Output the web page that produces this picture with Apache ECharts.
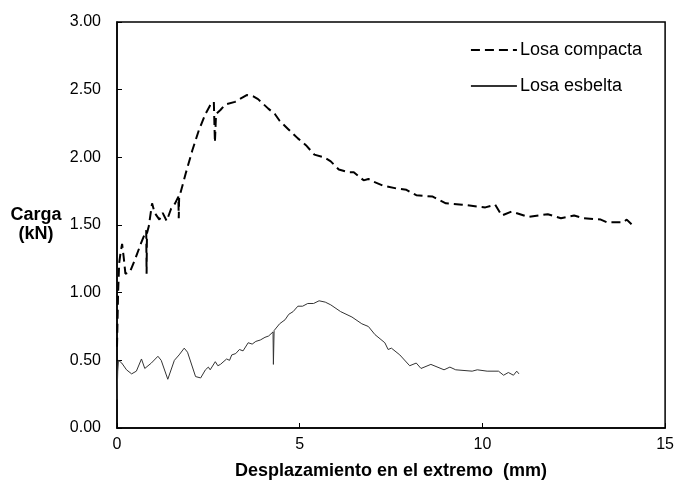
<!DOCTYPE html>
<html>
<head>
<meta charset="UTF-8">
<script type="text/javascript" src="https://cdn.jsdelivr.net/npm/echarts@6/dist/echarts.min.js"></script>
<title>Carga - desplazamiento</title>
<style>
	html, body { margin: 0; padding: 0; background: #fff; }
	#main { width: 677px; height: 486px; }
</style>
</head>
<body>
<div id="main"></div>
<script type="text/javascript">
	// Losa compacta: [desplazamiento mm, carga kN]
	var compacta = [
		[0, 0.6], [0.03, 1.0], [0.06, 1.22], [0.1, 1.3], [0.14, 1.36], [0.18, 1.27], [0.23, 1.14],
		[0.35, 1.15], [0.5, 1.25], [0.65, 1.36], [0.8, 1.46], [0.81, 1.14], [0.82, 1.44],
		[0.87, 1.49], [0.96, 1.66], [1.03, 1.59], [1.16, 1.54], [1.25, 1.59], [1.36, 1.53],
		[1.48, 1.62], [1.59, 1.66], [1.68, 1.71], [1.69, 1.55], [1.7, 1.7], [1.73, 1.73],
		[1.88, 1.88], [2.06, 2.05], [2.24, 2.2], [2.42, 2.32], [2.56, 2.39], [2.65, 2.41],
		[2.68, 2.11], [2.71, 2.32], [2.83, 2.35], [2.96, 2.39], [3.23, 2.41], [3.55, 2.46],
		[3.73, 2.45], [3.86, 2.43], [4.14, 2.36], [4.32, 2.32], [4.45, 2.27], [4.68, 2.21],
		[4.95, 2.14], [5.17, 2.09], [5.4, 2.02], [5.67, 2.0], [5.85, 1.97], [6.07, 1.91],
		[6.34, 1.89], [6.48, 1.89], [6.75, 1.83], [6.88, 1.84], [7.02, 1.82], [7.29, 1.79],
		[7.65, 1.77], [7.92, 1.76], [8.19, 1.72], [8.64, 1.71], [9.0, 1.66], [9.45, 1.65],
		[10.08, 1.63], [10.35, 1.65], [10.53, 1.57], [10.8, 1.6], [11.25, 1.56], [11.79, 1.58],
		[12.15, 1.55], [12.51, 1.57], [12.78, 1.55], [13.24, 1.54], [13.41, 1.52], [13.86, 1.52],
		[13.95, 1.54], [14.1, 1.5]
	];

	// Losa esbelta: [desplazamiento mm, carga kN]
	var esbelta = [
		[0, 0.21], [0.02, 0.42], [0.04, 0.5], [0.13, 0.48], [0.26, 0.43], [0.4, 0.4],
		[0.53, 0.42], [0.67, 0.51], [0.76, 0.44], [0.94, 0.48], [1.12, 0.53], [1.21, 0.5],
		[1.39, 0.36], [1.57, 0.5], [1.7, 0.54], [1.84, 0.59], [1.93, 0.56], [2.15, 0.38],
		[2.29, 0.37], [2.42, 0.43], [2.5, 0.45], [2.55, 0.43], [2.69, 0.49], [2.76, 0.46],
		[2.83, 0.47], [3.0, 0.51], [3.08, 0.5], [3.14, 0.54], [3.25, 0.55], [3.35, 0.58],
		[3.45, 0.57], [3.59, 0.63], [3.7, 0.62], [3.8, 0.64], [3.92, 0.65], [4.05, 0.67],
		[4.15, 0.68], [4.27, 0.71], [4.28, 0.47], [4.3, 0.72], [4.45, 0.77], [4.6, 0.8],
		[4.7, 0.84], [4.82, 0.86], [4.95, 0.9], [5.08, 0.9], [5.22, 0.92], [5.38, 0.92],
		[5.53, 0.94], [5.7, 0.93], [5.85, 0.91], [6.12, 0.86], [6.43, 0.82], [6.7, 0.77],
		[6.88, 0.75], [7.06, 0.69], [7.33, 0.63], [7.42, 0.58], [7.51, 0.59], [7.74, 0.54],
		[8.01, 0.46], [8.19, 0.48], [8.32, 0.44], [8.59, 0.47], [8.95, 0.43], [9.11, 0.45],
		[9.27, 0.43], [9.72, 0.42], [9.86, 0.43], [10.13, 0.42], [10.44, 0.42], [10.58, 0.39],
		[10.71, 0.41], [10.85, 0.39], [10.94, 0.42], [11.0, 0.4]
	];

	var nombres = ['Losa compacta', 'Losa esbelta'];
	var yTicks = [0, 0.5, 1, 1.5, 2, 2.5, 3];
	var xTicks = [0, 5, 10, 15];

	var fuente = '"Liberation Sans", Arial, sans-serif';
	var myChart = echarts.init(document.getElementById('main'));

	var option = {
		animation: false,
		textStyle: { fontFamily: fuente, color: '#000' },
		grid: {
			left: 117, right: 9, top: 22, bottom: 58,
			show: true, borderColor: '#000', borderWidth: 1.5, backgroundColor: 'transparent'
		},
		legend: {
			orient: 'vertical',
			right: 30,
			top: 36,
			itemWidth: 46,
			itemHeight: 14,
			itemGap: 18,
			itemStyle: { color: 'rgba(0,0,0,0)', borderWidth: 0 },
			textStyle: { fontSize: 18, color: '#000', fontFamily: fuente, padding: [0, 0, 0, -2] },
			data: nombres
		},
		xAxis: {
			type: 'value',
			min: xTicks[0],
			max: xTicks[xTicks.length - 1],
			interval: 5,
			name: 'Desplazamiento en el extremo  (mm)',
			nameLocation: 'middle',
			nameGap: 34,
			nameTextStyle: { fontSize: 18, fontWeight: 'bold', color: '#000', fontFamily: fuente },
			axisLine: { lineStyle: { color: '#000', width: 1.5 } },
			axisTick: { inside: true, length: 5, lineStyle: { color: '#000' } },
			axisLabel: { fontSize: 16, color: '#000', margin: 9 },
			splitLine: { show: false }
		},
		yAxis: {
			type: 'value',
			min: yTicks[0],
			max: yTicks[yTicks.length - 1],
			interval: 0.5,
			name: 'Carga\n(kN)',
			nameLocation: 'middle',
			nameRotate: 0,
			nameGap: 81,
			nameTextStyle: { fontSize: 18, fontWeight: 'bold', color: '#000', align: 'center', lineHeight: 19, padding: [6, 0, 0, 0], fontFamily: fuente },
			axisLine: { lineStyle: { color: '#000', width: 1.5 } },
			axisTick: { inside: true, length: 5, lineStyle: { color: '#000' } },
			axisLabel: {
				fontSize: 16, color: '#000', margin: 16,
				formatter: function (v) { return v.toFixed(2); }
			},
			splitLine: { show: false }
		},
		series: [
			{
				name: nombres[0],
				type: 'line',
				data: compacta,
				symbol: 'none',
				lineStyle: { color: '#000', width: 2, type: [9, 5] },
				itemStyle: { color: '#000' }
			},
			{
				name: nombres[1],
				type: 'line',
				data: esbelta,
				symbol: 'none',
				lineStyle: { color: '#333', width: 1 },
				itemStyle: { color: '#333' }
			}
		]
	};

	myChart.setOption(option);
</script>
</body>
</html>
